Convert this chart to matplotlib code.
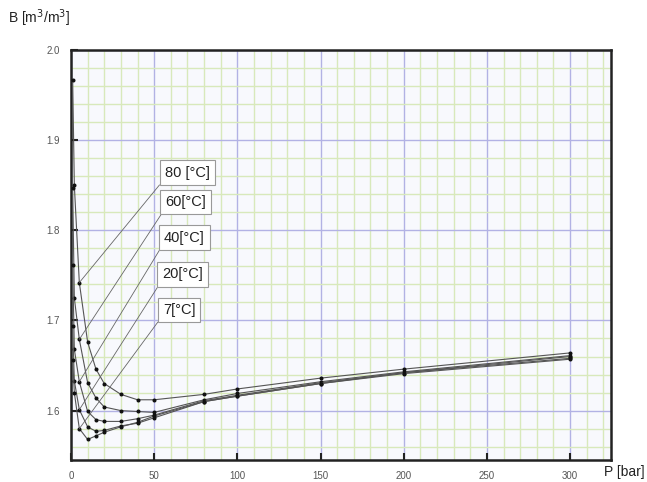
import matplotlib
matplotlib.use("Agg")
import matplotlib.pyplot as plt
from matplotlib.ticker import MultipleLocator

plt.rcParams['font.family'] = ['Liberation Sans', 'DejaVu Sans']

# Data
pressure = [1, 2, 5, 10, 15, 20, 30, 40, 50, 80, 100, 150, 200, 300]
b_80 = [1.967, 1.850, 1.742, 1.676, 1.646, 1.630, 1.618, 1.612, 1.612, 1.618, 1.624, 1.636, 1.646, 1.664]
b_60 = [1.847, 1.725, 1.679, 1.631, 1.614, 1.604, 1.600, 1.599, 1.598, 1.612, 1.619, 1.632, 1.643, 1.661]
b_40 = [1.762, 1.668, 1.632, 1.599, 1.590, 1.588, 1.588, 1.591, 1.595, 1.611, 1.617, 1.631, 1.642, 1.660]
b_20 = [1.694, 1.633, 1.601, 1.582, 1.577, 1.578, 1.583, 1.586, 1.592, 1.610, 1.616, 1.630, 1.642, 1.658]
b_7 = [1.656, 1.620, 1.580, 1.568, 1.572, 1.576, 1.582, 1.587, 1.594, 1.610, 1.616, 1.630, 1.641, 1.657]

series = [b_80, b_60, b_40, b_20, b_7]
labels = ["80 [°C]", "60[°C]", "40[°C]", "20[°C]", "7[°C]"]
label_pos = [(70, 1.864), (69, 1.831), (68, 1.792), (67, 1.751), (65, 1.712)]
anchor_idx = 2  # leader line goes to the P=5 point

xticks = [0, 50, 100, 150, 200, 250, 300]
yticks = [1.6, 1.7, 1.8, 1.9, 2.0]

fig = plt.figure(figsize=(6.47, 4.82), dpi=100)
ax = fig.add_axes([71/647, 1-460/482, 540/647, 410/482])
ax.set_facecolor('#f8f9fd')

ax.set_xlim(0, 324.6)
ax.set_ylim(1.5452, 2.0)

ax.xaxis.set_major_locator(MultipleLocator(50))
ax.xaxis.set_minor_locator(MultipleLocator(10))
ax.yaxis.set_major_locator(MultipleLocator(0.1))
ax.yaxis.set_minor_locator(MultipleLocator(0.02))
ax.set_xticks(xticks)
ax.set_yticks(yticks)
ax.set_xticklabels([str(t) for t in xticks])
ax.set_yticklabels([f"{t:.1f}" for t in yticks])

ax.grid(which='minor', color='#d8e9bb', lw=1.0)
ax.grid(which='major', color='#b2b2e4', lw=1.0)
ax.set_axisbelow(True)

for s in ax.spines.values():
    s.set_linewidth(1.8)
    s.set_color('#222222')

ax.tick_params(which='major', direction='in', length=5, width=1.5, colors='#222222',
               labelsize=7, labelcolor='#555555', pad=8)
ax.tick_params(which='minor', length=0)

for vals in series:
    ax.plot(pressure, vals, color='#555555', lw=0.8, marker='o', ms=1.9,
            mfc='#111111', mec='#111111', zorder=3)

for vals, lab, (lx, ly) in zip(series, labels, label_pos):
    ax.annotate(lab, xy=(pressure[anchor_idx], vals[anchor_idx]), xytext=(lx, ly),
                fontsize=10.5, color='#222222', ha='center', va='center',
                bbox=dict(boxstyle='square,pad=0.35', fc='white', ec='#999999', lw=0.8),
                arrowprops=dict(arrowstyle='-', color='#666666', lw=0.6,
                                shrinkA=0, shrinkB=0, relpos=(0, 0.1)),
                zorder=4)

fig.text(8/647, 1-18/482, "B [m$^3$/m$^3$]", fontsize=10, color='#222222', va='center')
fig.text(604/647, 1-472/482, "P [bar]", fontsize=10, color='#222222', va='center')

fig.savefig("out.png", dpi=100)
